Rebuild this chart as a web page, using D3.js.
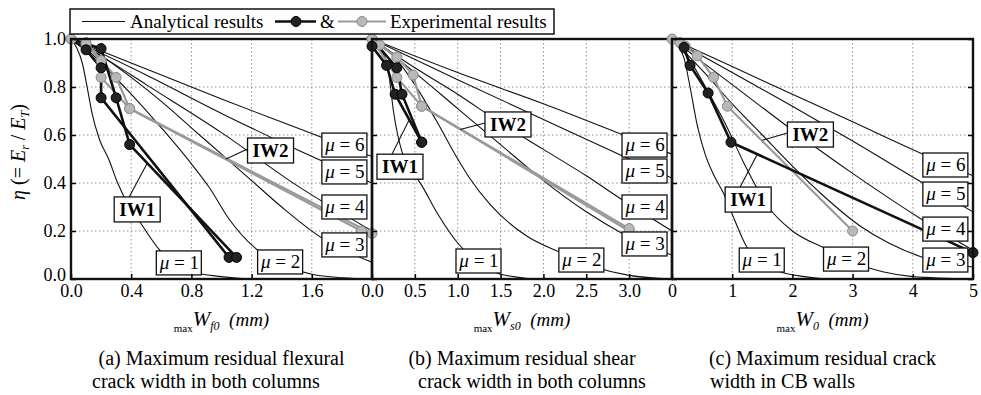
<!DOCTYPE html>
<html>
<head>
<meta charset="utf-8">
<script src="https://cdn.jsdelivr.net/npm/d3@7"></script>
<style>
  body { margin: 0; background: #fff; }
  svg { display: block; }
  svg text { font-family: "Liberation Serif", "Times New Roman", "DejaVu Serif", serif; }
</style>
</head>
<body>
<svg id="chart" width="981" height="395"></svg>
<script>
// ---- data (W in mm, eta = Er/ET) ----
const yTicks = [0, 0.2, 0.4, 0.6, 0.8, 1.0];
const xTicksA = [0, 0.4, 0.8, 1.2, 1.6];
const xTicksB = [0, 0.5, 1.0, 1.5, 2.0, 2.5, 3.0];
const xTicksC = [0, 1, 2, 3, 4, 5];
const muValues = [1, 2, 3, 4, 5, 6];

// analytical curves, index 0 -> mu = 1
const analyticA = [
  [[0,1],[0.04,0.96],[0.075,0.9],[0.11,0.79],[0.14,0.69],[0.19,0.58],[0.25,0.5],[0.31,0.4],[0.39,0.3],[0.45,0.245],[0.59,0.12],[0.7,0.06],[0.8,0.03],[1.0,0.01],[1.2,0],[2,0]],
  [[0,1],[0.1,0.96],[0.2,0.9],[0.4,0.77],[0.6,0.63],[0.8,0.48],[0.92,0.38],[1.05,0.25],[1.24,0.12],[1.4,0.06],[1.6,0.02],[1.8,0.005],[2,0]],
  [[0,1],[0.2,0.93],[0.4,0.84],[0.6,0.74],[0.8,0.63],[1.0,0.52],[1.2,0.41],[1.4,0.3],[1.67,0.17],[1.85,0.11],[2,0.07]],
  [[0,1],[0.25,0.91],[0.5,0.81],[1.0,0.61],[1.5,0.39],[2.0,0.2]],
  [[0,1],[0.5,0.85],[1.0,0.69],[1.5,0.54],[2.0,0.4]],
  [[0,1],[0.5,0.875],[1.0,0.75],[1.5,0.63],[2.0,0.51]]
];
const analyticB = [
  [[0,1],[0.1,0.96],[0.19,0.87],[0.25,0.7],[0.35,0.53],[0.45,0.46],[0.58,0.39],[0.76,0.275],[1.0,0.15],[1.2,0.08],[1.5,0.02],[2,0],[3.5,0]],
  [[0,1],[0.25,0.93],[0.5,0.81],[0.75,0.66],[1.0,0.5],[1.14,0.42],[1.38,0.31],[1.8,0.18],[2.2,0.11],[2.6,0.05],[3.0,0.015],[3.5,0]],
  [[0,1],[0.5,0.86],[1,0.71],[1.5,0.56],[2,0.41],[2.5,0.28],[2.92,0.19],[3.2,0.14],[3.5,0.1]],
  [[0,1],[0.5,0.88],[1,0.77],[1.5,0.65],[2,0.54],[2.5,0.43],[2.92,0.33],[3.5,0.2]],
  [[0,1],[1,0.83],[2,0.665],[3,0.5],[3.5,0.42]],
  [[0,1],[1,0.86],[2,0.73],[3,0.59],[3.5,0.52]]
];
const analyticC = [
  [[0,1],[0.1,0.97],[0.2,0.92],[0.3,0.8],[0.42,0.64],[0.55,0.52],[0.7,0.43],[0.85,0.36],[1.0,0.27],[1.25,0.13],[1.5,0.07],[1.8,0.03],[2.2,0.01],[2.6,0],[5,0]],
  [[0,1],[0.3,0.91],[0.6,0.78],[0.9,0.64],[1.2,0.48],[1.6,0.3],[2.0,0.2],[2.52,0.13],[3,0.07],[3.5,0.03],[4,0.01],[5,0]],
  [[0,1],[0.5,0.87],[1,0.73],[1.5,0.6],[2.0,0.47],[2.5,0.35],[3.13,0.22],[3.6,0.15],[4.17,0.09],[5,0.05]],
  [[0,1],[1,0.81],[2,0.62],[3,0.44],[4.17,0.245],[5,0.12]],
  [[0,1],[1,0.86],[2,0.72],[3,0.575],[4.17,0.4],[5,0.28]],
  [[0,1],[1,0.885],[2,0.77],[3,0.655],[4.17,0.52],[5,0.43]]
];

// experimental results: IW1 (black) and IW2 (grey)
const iw1A = [
  [[0,1],[0.1,0.955],[0.2,0.88],[0.2,0.755],[1.05,0.09]],
  [[0,1],[0.2,0.96],[0.3,0.755],[0.39,0.56],[1.1,0.09]]
];
const iw2A = [
  [[0,1],[0.1,0.975],[0.2,0.91],[0.2,0.84],[0.39,0.71],[1.93,0.2]],
  [[0,1],[0.1,0.985],[0.3,0.84],[0.39,0.71],[2.0,0.19]]
];
const iw1B = [
  [[0,1],[0,0.97],[0.17,0.89],[0.27,0.77],[0.58,0.57]],
  [[0,1],[0.29,0.88],[0.35,0.77],[0.58,0.57]]
];
const iw2B = [
  [[0,1],[0.09,0.975],[0.29,0.925],[0.48,0.85],[0.58,0.72],[3.0,0.2]],
  [[0,1],[0.29,0.84],[0.58,0.72],[3.0,0.21]]
];
const iw1C = [
  [[0,1],[0.2,0.965],[0.3,0.89],[0.6,0.775],[0.98,0.57],[5.0,0.11]]
];
const iw2C = [
  [[0,1],[0.13,0.985],[0.22,0.97],[0.42,0.93],[0.69,0.84],[0.92,0.72],[3.0,0.2]]
];

// annotation anchors (data coords): mu box top-left, index 0 -> mu = 1
const muBoxA = [[0.567,0.117],[1.24,0.121],[1.667,0.192],[1.667,0.35],[1.667,0.496],[1.667,0.608]];
const muBoxB = [[0.98,0.125],[2.18,0.129],[2.917,0.196],[2.917,0.35],[2.917,0.5],[2.917,0.608]];
const muBoxC = [[1.117,0.129],[2.517,0.133],[4.167,0.129],[4.167,0.258],[4.167,0.404],[4.167,0.525]];
const iw1LabelA = {box: [0.287, 0.342], tip: [0.507, 0.483]};
const iw2LabelA = {box: [1.173, 0.5875], tip: [1.03, 0.5]};
const iw1LabelB = {box: [0.058, 0.52], tip: [0.443, 0.67]};
const iw2LabelB = {box: [1.318, 0.696], tip: [1.03, 0.623]};
const iw1LabelC = {box: [0.883, 0.383], tip: [1.417, 0.52]};
const iw2LabelC = {box: [1.917, 0.654], tip: [1.5, 0.578]};

const captionA = ['(a) Maximum residual flexural', 'crack width in both columns'];
const captionB = ['(b) Maximum residual shear', 'crack width in both columns'];
const captionC = ['(c) Maximum residual crack', 'width in CB walls'];

// ---- layout ----
const plotTop = 39, plotBottom = 279;
const svg = d3.select('#chart');
const y = d3.scaleLinear().domain([0, 1]).range([plotBottom, plotTop]);

const panels = [
  {x: d3.scaleLinear().domain([0, 2]).range([71, 372]), ticks: xTicksA, fmt: d3.format('.1f'),
   analytic: analyticA, iw1: iw1A, iw2: iw2A, muBox: muBoxA, l1: iw1LabelA, l2: iw2LabelA,
   sub: 'f0', cap: captionA, cap2x: 92},
  {x: d3.scaleLinear().domain([0, 3.5]).range([372, 672]), ticks: xTicksB, fmt: d3.format('.1f'),
   analytic: analyticB, iw1: iw1B, iw2: iw2B, muBox: muBoxB, l1: iw1LabelB, l2: iw2LabelB,
   sub: 's0', cap: captionB, cap2x: 418},
  {x: d3.scaleLinear().domain([0, 5]).range([672, 973]), ticks: xTicksC, fmt: d3.format('d'),
   analytic: analyticC, iw1: iw1C, iw2: iw2C, muBox: muBoxC, l1: iw1LabelC, l2: iw2LabelC,
   sub: '0', cap: captionC, cap2x: 710}
];

panels.forEach((p, i) => {
  const [x0, x1] = p.x.range();
  const g = svg.append('g');

  const clipId = 'clip' + i;
  svg.append('clipPath').attr('id', clipId)
    .append('rect').attr('x', x0).attr('y', plotTop).attr('width', x1 - x0).attr('height', plotBottom - plotTop);

  // grid
  const grid = g.append('g').attr('stroke', '#777').attr('stroke-width', 0.8).attr('stroke-dasharray', '1.5,2.5');
  grid.selectAll('line.h').data(yTicks.slice(1, -1)).join('line')
    .attr('x1', x0).attr('x2', x1).attr('y1', d => y(d)).attr('y2', d => y(d));
  grid.selectAll('line.v').data(p.ticks.filter(t => t > 0 && p.x(t) < x1 - 3)).join('line')
    .attr('x1', d => p.x(d)).attr('x2', d => p.x(d)).attr('y1', plotTop).attr('y2', plotBottom);

  // analytical curves
  const curve = d3.line().x(d => p.x(d[0])).y(d => y(d[1])).curve(d3.curveMonotoneX);
  g.append('g').attr('clip-path', `url(#${clipId})`)
    .selectAll('path').data(p.analytic).join('path')
    .attr('d', curve).attr('fill', 'none').attr('stroke', '#111').attr('stroke-width', 1.1);

  // experimental polylines
  const poly = d3.line().x(d => p.x(d[0])).y(d => y(d[1]));
  g.append('g').selectAll('path').data(p.iw2).join('path')
    .attr('d', poly).attr('fill', 'none').attr('stroke', '#9a9a9a').attr('stroke-width', 2.2);
  g.append('g').selectAll('path').data(p.iw1).join('path')
    .attr('d', poly).attr('fill', 'none').attr('stroke', '#111').attr('stroke-width', 2.6);

  g.append('g').selectAll('circle').data(p.iw2.flat()).join('circle')
    .attr('cx', d => p.x(d[0])).attr('cy', d => y(d[1])).attr('r', 5)
    .attr('fill', '#b8b8b8').attr('stroke', '#888').attr('stroke-width', 1);
  g.append('g').selectAll('circle').data(p.iw1.flat().filter(d => d[0] > 0 || d[1] < 1)).join('circle')
    .attr('cx', d => p.x(d[0])).attr('cy', d => y(d[1])).attr('r', 5)
    .attr('fill', '#222').attr('stroke', '#000').attr('stroke-width', 1);

  // IW leader lines and boxes
  [[p.l1, 'IW1'], [p.l2, 'IW2']].forEach(([lab, name]) => {
    const bx = p.x(lab.box[0]), by = y(lab.box[1]);
    const tx = p.x(lab.tip[0]), ty = y(lab.tip[1]);
    const sx = name === 'IW1' ? bx + 15 : bx;
    const sy = name === 'IW1' ? by : by + 11;
    g.append('line').attr('x1', sx).attr('y1', sy).attr('x2', tx).attr('y2', ty)
      .attr('stroke', '#111').attr('stroke-width', 1.1);
    g.append('rect').attr('x', bx).attr('y', by).attr('width', 46).attr('height', 25)
      .attr('fill', '#fff').attr('stroke', '#111').attr('stroke-width', 1.3);
    g.append('text').attr('x', bx + 23).attr('y', by + 19).attr('text-anchor', 'middle')
      .attr('font-size', 19).attr('font-weight', 'bold').text(name);
  });

  // mu boxes
  const mu = g.append('g').selectAll('g').data(p.muBox).join('g')
    .attr('transform', d => `translate(${p.x(d[0])},${y(d[1])})`);
  mu.append('rect').attr('width', 45).attr('height', 24)
    .attr('fill', '#fff').attr('stroke', '#111').attr('stroke-width', 1.3);
  const mt = mu.append('text').attr('x', 23).attr('y', 18).attr('text-anchor', 'middle').attr('font-size', 19);
  mt.append('tspan').attr('font-style', 'italic').text('\u03bc');
  mt.append('tspan').text((d, k) => ' = ' + muValues[k]);

  // axes (ticks pointing inwards)
  const ax = g.append('g').attr('transform', `translate(0,${plotBottom})`)
    .call(d3.axisBottom(p.x).tickValues(p.ticks).tickFormat(p.fmt).tickSize(-5).tickPadding(5));
  ax.select('.domain').remove();
  ax.attr('font-size', 18);
  ax.selectAll('line').attr('stroke-width', 1.5);

  const ay = g.append('g').attr('transform', `translate(${x0},0)`)
    .call(d3.axisLeft(y).tickValues(yTicks).tickFormat(i === 0 ? d3.format('.1f') : () => '').tickSize(-5).tickPadding(5));
  ay.select('.domain').remove();
  ay.attr('font-size', 18);
  ay.selectAll('line').attr('stroke-width', 1.5);
  ay.selectAll('text').filter(d => d === 0).attr('y', -4);
  if (i === 2) {
    const ar = g.append('g').attr('transform', `translate(${x1},0)`)
      .call(d3.axisRight(y).tickValues(yTicks).tickFormat(() => '').tickSize(-5));
    ar.select('.domain').remove();
    ar.selectAll('line').attr('stroke-width', 1.5);
  }

  // frame
  g.append('rect').attr('x', x0).attr('y', plotTop).attr('width', x1 - x0).attr('height', plotBottom - plotTop)
    .attr('fill', 'none').attr('stroke', '#111').attr('stroke-width', 2.4);

  // x title
  const cx = (x0 + x1) / 2;
  const t = g.append('text').attr('x', cx).attr('y', 326).attr('text-anchor', 'middle');
  t.append('tspan').attr('font-size', 11).attr('dy', 6).text('max');
  t.append('tspan').attr('font-size', 21).attr('font-style', 'italic').attr('dy', -6).text('W');
  t.append('tspan').attr('font-size', 12).attr('font-style', 'italic').attr('dy', 4).text(p.sub);
  t.append('tspan').attr('font-size', 19).attr('font-style', 'italic').attr('dy', -4).text('\u2002(mm)');

  // caption
  g.append('text').attr('x', cx).attr('y', 365).attr('text-anchor', 'middle').attr('font-size', 20).text(p.cap[0]);
  g.append('text').attr('x', p.cap2x).attr('y', 388).attr('font-size', 20).text(p.cap[1]);
});

// y title
const yt = svg.append('text').attr('transform', 'translate(25,152) rotate(-90)')
  .attr('text-anchor', 'middle').attr('font-size', 20);
yt.append('tspan').attr('font-style', 'italic').text('\u03b7');
yt.append('tspan').text(' (= ');
yt.append('tspan').attr('font-style', 'italic').text('E');
yt.append('tspan').attr('font-style', 'italic').attr('font-size', 12).attr('dy', 4).text('r');
yt.append('tspan').attr('dy', -4).text(' / ');
yt.append('tspan').attr('font-style', 'italic').text('E');
yt.append('tspan').attr('font-style', 'italic').attr('font-size', 12).attr('dy', 4).text('T');
yt.append('tspan').attr('dy', -4).text(')');

// legend
const lg = svg.append('g');
lg.append('rect').attr('x', 70).attr('y', 9).attr('width', 484).attr('height', 25)
  .attr('fill', '#fff').attr('stroke', '#111').attr('stroke-width', 1.5);
lg.append('line').attr('x1', 82).attr('x2', 125).attr('y1', 21.5).attr('y2', 21.5)
  .attr('stroke', '#111').attr('stroke-width', 1.1);
lg.append('text').attr('x', 130).attr('y', 28).attr('font-size', 19).text('Analytical results');
lg.append('line').attr('x1', 275).attr('x2', 316).attr('y1', 21.5).attr('y2', 21.5)
  .attr('stroke', '#111').attr('stroke-width', 2.6);
lg.append('circle').attr('cx', 296).attr('cy', 21.5).attr('r', 5).attr('fill', '#222').attr('stroke', '#000');
lg.append('text').attr('x', 320).attr('y', 28).attr('font-size', 19).text('&');
lg.append('line').attr('x1', 338).attr('x2', 386).attr('y1', 21.5).attr('y2', 21.5)
  .attr('stroke', '#9a9a9a').attr('stroke-width', 2.2);
lg.append('circle').attr('cx', 362).attr('cy', 21.5).attr('r', 5).attr('fill', '#b8b8b8').attr('stroke', '#888');
lg.append('text').attr('x', 390).attr('y', 28).attr('font-size', 19).text('Experimental results');
</script>
</body>
</html>
